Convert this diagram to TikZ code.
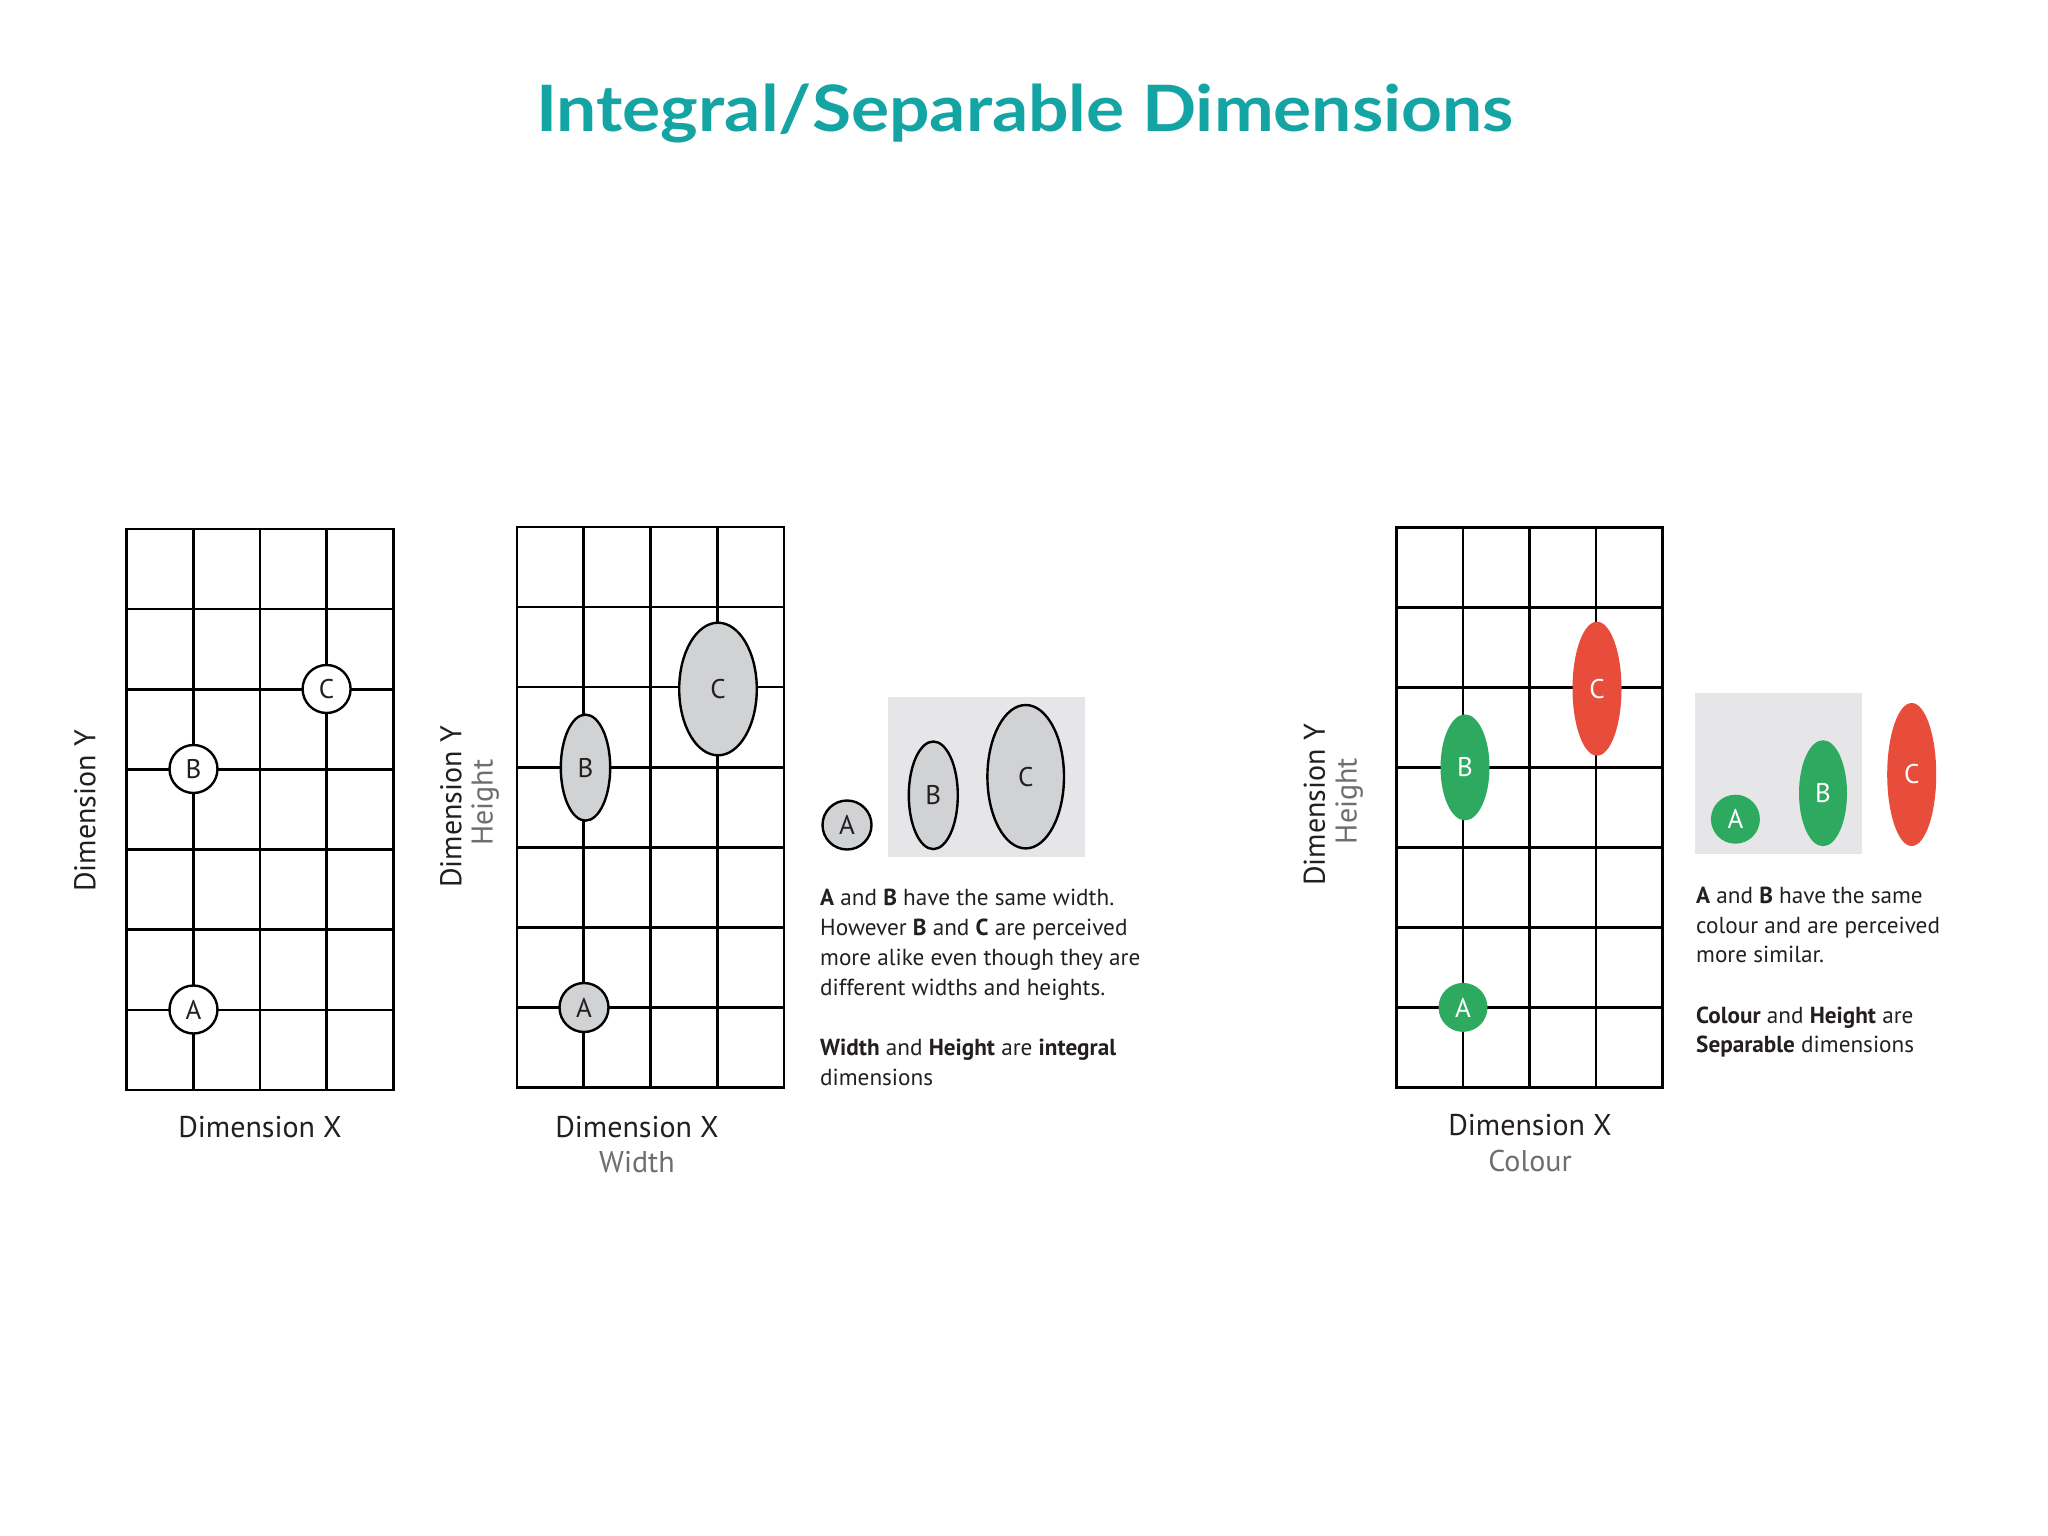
\documentclass[tikz,border=0pt]{standalone}
\usepackage{fontspec}
\setmainfont{PT Sans}
\newfontfamily\titlefont{Lato}
\usetikzlibrary{shapes.geometric}
\definecolor{teal1}{HTML}{14A4A4}
\definecolor{ink}{HTML}{231F20}
\definecolor{lab}{HTML}{6D6E71}
\definecolor{gfill}{HTML}{D1D2D4}
\definecolor{boxg}{HTML}{E6E6E8}
\definecolor{grn}{HTML}{2DAA5F}
\definecolor{rd}{HTML}{E84C3B}
\newcommand{\dimgrid}[4]{%
  \draw[gridline] (#1,#2) rectangle (#3,#4);
  \foreach \k in {1,2,3} \draw[gridline] ({#1+(#3-#1)*\k/4},#2) -- ({#1+(#3-#1)*\k/4},#4);
  \foreach \k in {1,...,6} \draw[gridline] (#1,{#2+(#4-#2)*\k/7}) -- (#3,{#2+(#4-#2)*\k/7});
}
\begin{document}
\begin{tikzpicture}[x=1pt,y=-1pt,
  gridline/.style={draw=black,line width=2.6pt},
  pt/.style={ellipse,draw=black,line width=2.4pt,inner sep=0pt,text=ink,
     font=\fontsize{27}{27}\selectfont},
  wpt/.style={pt,fill=white},
  gpt/.style={pt,fill=gfill},
  cpt/.style={ellipse,draw=none,inner sep=0pt,text=white,font=\fontsize{27}{27}\selectfont},
  greenpt/.style={cpt,fill=grn},
  redpt/.style={cpt,fill=rd},
  axlab/.style={text=ink,font=\fontsize{30}{30}\selectfont,inner sep=0pt},
  sublab/.style={text=lab,font=\fontsize{30}{30}\selectfont,inner sep=0pt},
  body/.style={text=ink,font=\fontsize{23.2}{23.2}\selectfont,inner sep=0pt,anchor=base west},
]
\fill[white] (0,0) rectangle (2048,1536);
\useasboundingbox (0,0) rectangle (2048,1536);

\node[text=teal1,font=\titlefont\bfseries\fontsize{64}{64}\selectfont,anchor=base,inner sep=0pt] (title) at (1025,131.7) {\scalebox{1.115}[1]{Integral/Separable Dimensions}};

% grid 1
\dimgrid{126.5}{529}{393.5}{1090}
\node[wpt,minimum width=48pt,minimum height=48pt] (g1c) at (326.6,689) {C};
\node[wpt,minimum width=48pt,minimum height=48pt] (g1b) at (193.5,769) {B};
\node[wpt,minimum width=48pt,minimum height=48pt] (g1a) at (193.5,1009.5) {A};
\node[axlab,anchor=base] (g1x) at (260,1137) {Dimension X};
\node[axlab,rotate=90] (g1y) at (85,811) {Dimension Y};

% grid 2
\dimgrid{517}{527}{784}{1087.5}
\node[gpt,minimum width=49pt,minimum height=49pt] (g2a) at (584,1007.5) {A};
\node[gpt,minimum width=49.4pt,minimum height=106pt] (g2b) at (585.5,767.6) {B};
\node[gpt,minimum width=77.6pt,minimum height=132.6pt] (g2c) at (718,689) {C};
\node[axlab,anchor=base] (g2x) at (637,1137) {Dimension X};
\node[sublab,anchor=base] (g2w) at (637,1172) {Width};
\node[axlab,rotate=90] (g2y) at (451,807) {Dimension Y};
\node[sublab,rotate=90] (g2h) at (485.3,802.5) {Height};

% middle comparison
\fill[boxg] (887.7,696.7) rectangle (1085,856.7);
\node[gpt,minimum width=49pt,minimum height=49pt] (ma) at (847,825) {A};
\node[gpt,minimum width=49pt,minimum height=107.6pt] (mb) at (933.3,795.3) {B};
\node[gpt,minimum width=76.6pt,minimum height=143.4pt] (mc) at (1025.7,776.7) {C};
\node[body] (m1) at (820,905) {\textbf{A} and \textbf{B} have the same width.};
\node[body] (m2) at (820,935) {However \textbf{B} and \textbf{C} are perceived};
\node[body] (m3) at (820,965) {more alike even though they are};
\node[body] (m4) at (820,995) {different widths and heights.};
\node[body] (m5) at (820,1055) {\textbf{Width} and \textbf{Height} are \textbf{integral}};
\node[body] (m6) at (820,1085) {dimensions};

% grid 3
\dimgrid{1396.5}{527.3}{1662.6}{1087.2}
\node[greenpt,minimum width=49pt,minimum height=49pt] (g3a) at (1463,1007.4) {A};
\node[greenpt,minimum width=49pt,minimum height=106pt] (g3b) at (1465,767.4) {B};
\node[redpt,minimum width=49pt,minimum height=134pt] (g3c) at (1597,688.7) {C};
\node[axlab,anchor=base] (g3x) at (1530,1135.5) {Dimension X};
\node[sublab,anchor=base] (g3w) at (1530,1171) {Colour};
\node[axlab,rotate=90] (g3y) at (1314.4,805) {Dimension Y};
\node[sublab,rotate=90] (g3h) at (1349.2,801) {Height};

% right comparison
\fill[boxg] (1695,693.4) rectangle (1862,853.5);
\node[greenpt,minimum width=49pt,minimum height=49pt] (ra) at (1735.4,819.2) {A};
\node[greenpt,minimum width=48pt,minimum height=106pt] (rb) at (1823,793.2) {B};
\node[redpt,minimum width=49pt,minimum height=143pt] (rc) at (1911.7,774.5) {C};
\node[body] (r1) at (1696,903) {\textbf{A} and \textbf{B} have the same};
\node[body] (r2) at (1696,933) {colour and are perceived};
\node[body] (r3) at (1696,962.5) {more similar.};
\node[body] (r4) at (1696,1023) {\textbf{Colour} and \textbf{Height} are};
\node[body] (r5) at (1696,1052) {\textbf{Separable} dimensions};
\end{tikzpicture}
\end{document}
